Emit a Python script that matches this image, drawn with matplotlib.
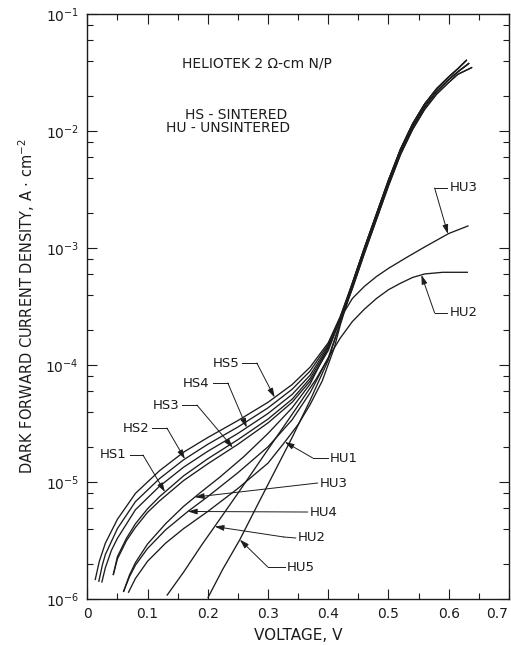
import numpy as np
import matplotlib
matplotlib.use('Agg')
import matplotlib.pyplot as plt
import matplotlib.transforms as mtransforms
from matplotlib.ticker import FixedLocator, LogLocator, NullFormatter

plt.rcParams['font.family'] = ['DejaVu Sans']
plt.rcParams['mathtext.fontset'] = 'dejavusans'

# dark forward J-V, low-voltage part of each cell (V, A/cm^2)
hs5_v = [0.013, 0.02, 0.03, 0.05, 0.08, 0.12, 0.16, 0.20, 0.25, 0.30, 0.34, 0.37, 0.40, 0.42]
hs5_j = [1.45e-6, 2.1e-6, 3.0e-6, 4.8e-6, 8.0e-6, 1.25e-5, 1.8e-5, 2.4e-5, 3.35e-5, 4.8e-5, 6.8e-5, 9.6e-5, 1.55e-4, 2.6e-4]

hs2_v = [0.019, 0.025, 0.03, 0.05, 0.08, 0.12, 0.16, 0.20, 0.25, 0.30, 0.34, 0.37, 0.40, 0.42]
hs2_j = [1.4e-6, 1.95e-6, 2.4e-6, 4.0e-6, 6.8e-6, 1.07e-5, 1.55e-5, 2.1e-5, 2.95e-5, 4.3e-5, 6.2e-5, 8.9e-5, 1.5e-4, 2.55e-4]

hs4_v = [0.024, 0.03, 0.04, 0.05, 0.08, 0.12, 0.16, 0.20, 0.25, 0.30, 0.34, 0.37, 0.40, 0.42]
hs4_j = [1.38e-6, 1.85e-6, 2.6e-6, 3.3e-6, 5.8e-6, 9.2e-6, 1.34e-5, 1.83e-5, 2.6e-5, 3.85e-5, 5.6e-5, 8.2e-5, 1.45e-4, 2.55e-4]

hs1_v = [0.043, 0.05, 0.065, 0.08, 0.10, 0.12, 0.16, 0.20, 0.25, 0.30, 0.34, 0.37, 0.40, 0.42]
hs1_j = [1.6e-6, 2.3e-6, 3.3e-6, 4.4e-6, 5.9e-6, 7.5e-6, 1.13e-5, 1.58e-5, 2.3e-5, 3.45e-5, 5.1e-5, 7.7e-5, 1.4e-4, 2.5e-4]

hs3_v = [0.043, 0.05, 0.065, 0.08, 0.10, 0.12, 0.16, 0.20, 0.25, 0.30, 0.34, 0.37, 0.40, 0.42]
hs3_j = [1.6e-6, 2.2e-6, 3.15e-6, 4.1e-6, 5.5e-6, 6.9e-6, 1.03e-5, 1.43e-5, 2.1e-5, 3.2e-5, 4.8e-5, 7.3e-5, 1.33e-4, 2.45e-4]

hu1_v = [0.068, 0.08, 0.10, 0.13, 0.16, 0.20, 0.25, 0.30, 0.328, 0.35, 0.37, 0.39, 0.41, 0.42]
hu1_j = [1.13e-6, 1.5e-6, 2.1e-6, 3.0e-6, 4.0e-6, 5.6e-6, 8.8e-6, 1.45e-5, 2.2e-5, 3.1e-5, 4.6e-5, 7.3e-5, 1.4e-4, 2.2e-4]

hu4_v = [0.060, 0.07, 0.08, 0.10, 0.13, 0.167, 0.20, 0.25, 0.30, 0.34, 0.37, 0.40, 0.42]
hu4_j = [1.15e-6, 1.55e-6, 1.95e-6, 2.7e-6, 3.9e-6, 5.6e-6, 7.5e-6, 1.2e-5, 2.0e-5, 3.4e-5, 5.8e-5, 1.15e-4, 2.3e-4]

hu5_v = [0.200, 0.225, 0.253, 0.28, 0.31, 0.34, 0.37, 0.40, 0.42]
hu5_j = [1.02e-6, 1.8e-6, 3.2e-6, 6.0e-6, 1.2e-5, 2.4e-5, 5.0e-5, 1.1e-4, 2.3e-4]

# cells that bend over at high current (full range)
hu3_v = [0.060, 0.07, 0.08, 0.10, 0.13, 0.16, 0.19, 0.22, 0.26, 0.30, 0.34, 0.37, 0.40, 0.42,
         0.44, 0.46, 0.48, 0.50, 0.53, 0.56, 0.60, 0.633]
hu3_j = [1.15e-6, 1.6e-6, 2.05e-6, 2.95e-6, 4.4e-6, 6.2e-6, 8.3e-6, 1.1e-5, 1.65e-5, 2.6e-5, 4.3e-5,
         6.9e-5, 1.4e-4, 2.5e-4, 3.7e-4, 4.7e-4, 5.7e-4, 6.7e-4, 8.3e-4, 1.02e-3, 1.33e-3, 1.55e-3]

hu2_v = [0.132, 0.16, 0.19, 0.212, 0.25, 0.30, 0.35, 0.38, 0.40, 0.42, 0.44, 0.46, 0.48, 0.50,
         0.52, 0.54, 0.56, 0.59, 0.632]
hu2_j = [1.07e-6, 1.7e-6, 2.9e-6, 4.2e-6, 8.0e-6, 1.9e-5, 4.5e-5, 7.6e-5, 1.15e-4, 1.7e-4, 2.35e-4,
         3.0e-4, 3.7e-4, 4.4e-4, 5.0e-4, 5.6e-4, 6.0e-4, 6.2e-4, 6.2e-4]

# high-current branches shared by the remaining cells
upper_a_v = [0.44, 0.46, 0.48, 0.50, 0.52, 0.54, 0.56, 0.58, 0.60, 0.615, 0.630]
upper_a_j = [5.0e-4, 1.0e-3, 1.95e-3, 3.8e-3, 7.0e-3, 1.15e-2, 1.7e-2, 2.3e-2, 2.9e-2, 3.4e-2, 4.05e-2]
upper_b_v = [0.44, 0.46, 0.48, 0.50, 0.52, 0.54, 0.56, 0.58, 0.60, 0.615, 0.634]
upper_b_j = [4.75e-4, 9.5e-4, 1.85e-3, 3.6e-3, 6.65e-3, 1.09e-2, 1.61e-2, 2.18e-2, 2.75e-2, 3.2e-2, 3.8e-2]
upper_c_v = [0.44, 0.46, 0.48, 0.50, 0.52, 0.54, 0.56, 0.58, 0.60, 0.615, 0.639]
upper_c_j = [4.5e-4, 9.0e-4, 1.75e-3, 3.4e-3, 6.3e-3, 1.03e-2, 1.53e-2, 2.07e-2, 2.6e-2, 3.05e-2, 3.5e-2]

x_ticks = [0, 0.1, 0.2, 0.3, 0.4, 0.5, 0.6, 0.7]
x_tick_labels = ['0', '0.1', '0.2', '0.3', '0.4', '0.5', '0.6', '0.7']
y_ticks = [1e-6, 1e-5, 1e-4, 1e-3, 1e-2, 1e-1]
y_tick_labels = [r'$\mathregular{10^{-%d}}$' % k for k in (6, 5, 4, 3, 2, 1)]

ink = '#1c1c1c'


def join(low_v, low_j, up_v, up_j):
    return list(low_v) + list(up_v), list(low_j) + list(up_j)


curves = {
    'HS5': join(hs5_v, hs5_j, upper_a_v, upper_a_j),
    'HS2': join(hs2_v, hs2_j, upper_a_v, upper_a_j),
    'HU5': join(hu5_v, hu5_j, upper_a_v, upper_a_j),
    'HS4': join(hs4_v, hs4_j, upper_b_v, upper_b_j),
    'HS1': join(hs1_v, hs1_j, upper_b_v, upper_b_j),
    'HU1': join(hu1_v, hu1_j, upper_b_v, upper_b_j),
    'HS3': join(hs3_v, hs3_j, upper_c_v, upper_c_j),
    'HU4': join(hu4_v, hu4_j, upper_c_v, upper_c_j),
    'HU3': (hu3_v, hu3_j),
    'HU2': (hu2_v, hu2_j),
}

# label, curve, tip voltage, text anchor, leader start, elbow (axes fraction)
callouts = [
    ('HS5', 'HS5', 0.311, 'right', (0.3618, 0.4034), (0.3665, 0.4034), (0.4020, 0.4034)),
    ('HS4', 'HS4', 0.2648, 'right', (0.2907, 0.3692), (0.2978, 0.3692), (0.3333, 0.3692)),
    ('HS3', 'HS3', 0.2416, 'right', (0.2196, 0.3316), (0.2244, 0.3316), (0.2599, 0.3316)),
    ('HS2', 'HS2', 0.162, 'right', (0.1485, 0.2923), (0.1533, 0.2923), (0.1888, 0.2923)),
    ('HS1', 'HS1', 0.1289, 'right', (0.0941, 0.2462), (0.1015, 0.2462), (0.1320, 0.2462)),
    ('HU1', 'HU1', 0.328, 'left', (0.5750, 0.2410), (0.5703, 0.2410), (0.5347, 0.2410)),
    ('HU3', 'HU3', 0.1786, 'left', (0.5513, 0.1983), (0.5466, 0.1983), (0.5466, 0.1983)),
    ('HU4', 'HU4', 0.167, 'left', (0.5276, 0.1487), (0.5229, 0.1487), (0.5229, 0.1487)),
    ('HU2', 'HU2', 0.2115, 'left', (0.4992, 0.1043), (0.4944, 0.1043), (0.4660, 0.1060)),
    ('HU5', 'HU5', 0.2532, 'left', (0.4731, 0.0547), (0.4684, 0.0547), (0.4281, 0.0547)),
    ('HU3', 'HU3', 0.5987, 'left', (0.8592, 0.7026), (0.8521, 0.7026), (0.8237, 0.7026)),
    ('HU2', 'HU2', 0.5546, 'left', (0.8592, 0.4889), (0.8521, 0.4889), (0.8237, 0.4889)),
]

fig = plt.figure(figsize=(5.11, 6.45), dpi=100)
ax = fig.add_axes([0.1708, 0.0713, 0.8252, 0.907])

for name, (v, j) in curves.items():
    ax.plot(v, j, color=ink, lw=0.95, solid_capstyle='butt')

ax.set_yscale('log')
ax.set_xlim(0, 0.7)
ax.set_ylim(1e-6, 1e-1)

for label, key, v_tip, ha, text_xy, start, elbow in callouts:
    v, j = curves[key]
    j_tip = 10 ** np.interp(v_tip, v, np.log10(j))
    ax.text(text_xy[0], text_xy[1], label, transform=ax.transAxes, ha=ha, va='center',
            fontsize=9.5, color=ink)
    ax.plot([start[0], elbow[0]], [start[1], elbow[1]], transform=ax.transAxes,
            color=ink, lw=0.7)
    ax.annotate('', xy=(v_tip, j_tip), xycoords='data', xytext=elbow,
                textcoords='axes fraction',
                arrowprops=dict(arrowstyle='-|>,head_length=0.55,head_width=0.17',
                                color=ink, lw=0.7, shrinkA=0, shrinkB=0))

ax.text(0.402, 0.916, 'HELIOTEK 2 Ω-cm N/P', transform=ax.transAxes, ha='center',
        va='center', fontsize=10, color=ink)
ax.text(0.2314, 0.8270, 'HS - SINTERED', transform=ax.transAxes, ha='left',
        va='center', fontsize=10, color=ink)
ax.text(0.1864, 0.8050, 'HU - UNSINTERED', transform=ax.transAxes, ha='left',
        va='center', fontsize=10, color=ink)

ax.xaxis.set_major_locator(FixedLocator(x_ticks))
ax.set_xticklabels(x_tick_labels)
ax.xaxis.set_minor_locator(FixedLocator(np.arange(0.05, 0.7, 0.1)))
ax.yaxis.set_major_locator(FixedLocator(y_ticks))
ax.set_yticklabels(y_tick_labels)
ax.yaxis.set_minor_locator(LogLocator(base=10, subs=(2, 4, 6, 8)))
ax.yaxis.set_minor_formatter(NullFormatter())

ax.tick_params(which='both', direction='in', top=True, right=True, colors=ink,
               labelsize=10, width=0.8)
ax.tick_params(which='major', length=7, pad=6)
ax.tick_params(which='minor', length=4)
for spine in ax.spines.values():
    spine.set_color(ink)
    spine.set_linewidth(1.0)

# last voltage label sits inside the figure edge
last = ax.get_xticklabels()[-1]
last.set_horizontalalignment('right')
last.set_transform(last.get_transform() + mtransforms.ScaledTranslation(-1 / 72, 0, fig.dpi_scale_trans))

ax.set_xlabel('VOLTAGE, V', fontsize=11, color=ink, labelpad=5)
ax.set_ylabel(r'DARK FORWARD CURRENT DENSITY, A $\cdot$ cm$^{-2}$', fontsize=10.5,
              color=ink, labelpad=6)

fig.savefig('out.png', dpi=100)
